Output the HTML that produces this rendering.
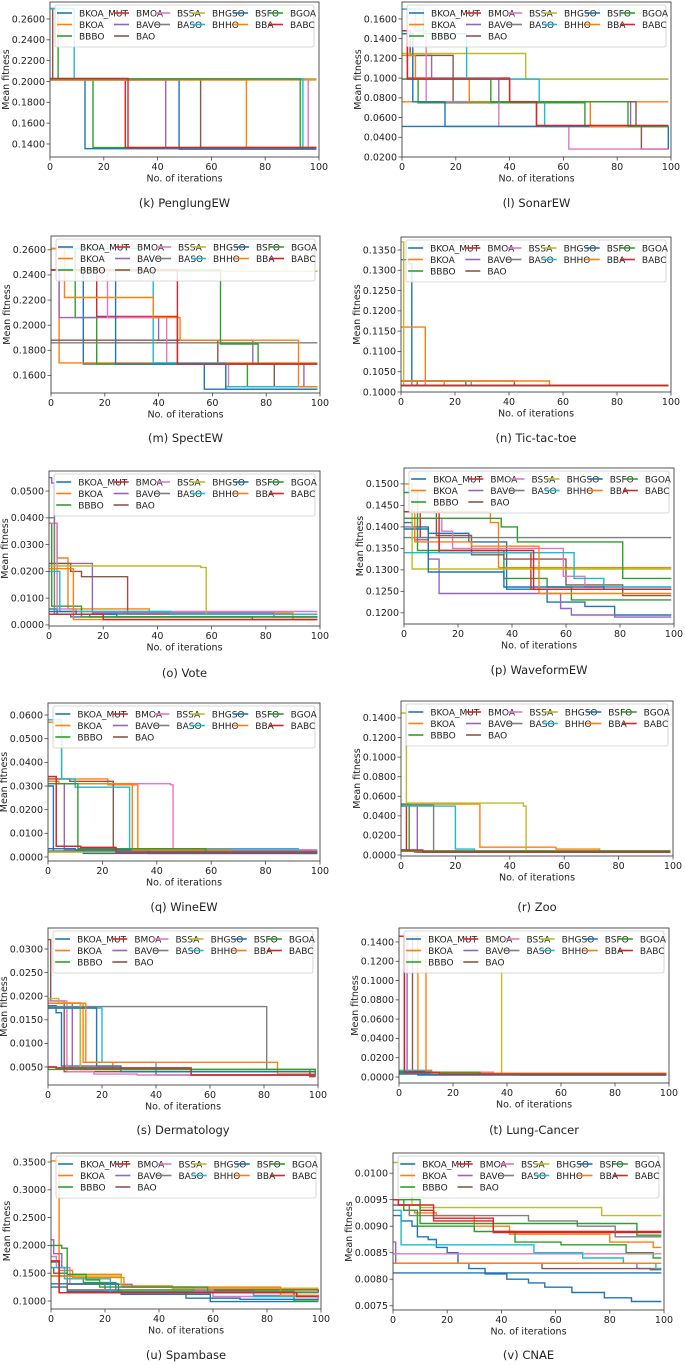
<!DOCTYPE html>
<html><head><meta charset="utf-8">
<style>
html,body{margin:0;padding:0;background:#fff;}
svg{display:block;font-family:"DejaVu Sans","Liberation Sans",sans-serif;}
</style></head>
<body>
<svg id="fig" width="685" height="1364" viewBox="0 0 685 1364" xmlns="http://www.w3.org/2000/svg"></svg>
<script>
const seriesNames = ["BKOA_MUT","BKOA","BBBO","BMOA","BAVO","BAO","BSSA","BASO","BHGSO","BHHO","BSFO","BBA","BGOA","BABC"];
const seriesColors = ["#1f77b4","#ff7f0e","#2ca02c","#d62728","#9467bd","#8c564b","#e377c2","#7f7f7f","#bcbd22","#17becf","#1f77b4","#ff7f0e","#2ca02c","#d62728"];
const xTicks = [0,20,40,60,80,100];

const penglungTicks = [0.14,0.16,0.18,0.20,0.22,0.24,0.26];
const penglungSeries = [
[[0,.2025],[13,.1355]],[[0,.2015]],[[0,.27],[3,.2025],[16,.1365]],[[0,.2025],[28,.1365]],
[[0,.2015],[43,.1365]],[[0,.27],[1,.2025],[56,.1365]],[[0,.2025],[96,.1365]],[[0,.2025]],
[[0,.2025]],[[0,.27],[9,.2025],[94,.1365]],[[0,.2015],[48,.135]],[[0,.2015],[73,.1365]],
[[0,.2025],[93,.1365]],[[0,.203],[29,.1365]]];

const sonarTicks = [0.02,0.04,0.06,0.08,0.10,0.12,0.14,0.16];
const sonarSeries = [
[[0,.051]],[[0,.076]],[[0,.145],[4,.099],[6,.075],[68,.051]],[[0,.148],[2,.100],[40,.076],[50,.051]],
[[0,.148],[3,.123],[11,.100],[36,.076],[85,.051]],[[0,.148],[3,.123],[19,.076],[87,.051],[89,.028]],
[[0,.17],[5,.148],[9,.076],[36,.051],[62,.028]],[[0,.099]],[[0,.125],[46,.099]],
[[0,.17],[8,.145],[24,.099],[51,.076],[53,.051]],[[0,.145],[4,.076],[16,.051],[99,.028]],
[[0,.123],[5,.099],[25,.076],[70,.051]],[[0,.099],[33,.076],[84,.051]],[[0,.148],[2,.099],[40,.076],[50,.052]]];

const spectTicks = [0.16,0.18,0.20,0.22,0.24,0.26];
const spectSeries = [
[[0,.244],[12,.169],[57,.149]],[[0,.244],[3,.170]],[[0,.261],[9,.206],[17,.169],[73,.151]],
[[0,.244],[17,.207],[47,.169]],[[0,.244],[3,.206],[40,.188],[75,.169],[94,.151]],
[[0,.188],[62,.169],[83,.151]],[[0,.244],[21,.206],[43,.169],[66,.151]],[[0,.186]],
[[0,.261],[5,.243]],[[0,.261],[37,.243],[38,.170],[65,.151]],[[0,.244],[24,.169],[65,.149]],
[[0,.261],[5,.222],[38,.206],[48,.188],[92,.151]],[[0,.244],[63,.185],[77,.169]],[[0,.244],[47,.169]]];

const tictacTicks = [0.100,0.105,0.110,0.115,0.120,0.125,0.130,0.135];
const tictacSeries = [
[[0,.1326],[3,.1316],[4,.1027],[24,.1016]],[[0,.1160],[9,.1027],[16,.1016]],[[0,.1027],[6,.1016]],
[[0,.1016]],[[0,.1027],[4,.1016]],[[0,.1027],[42,.1016]],[[0,.1027],[9,.1016]],[[0,.1016]],
[[0,.137],[1,.1016]],[[0,.1027],[26,.1016]],[[0,.1016]],[[0,.1027],[55,.1016]],[[0,.1016]],[[0,.1016]]];

const voteTicks = [0,0.01,0.02,0.03,0.04,0.05];
const voteSeries = [
[[0,.006],[3,.004],[8,.003],[75,.002]],[[0,.038],[3,.025],[7,.006],[37,.0045],[90,.002]],
[[0,.038],[1,.007],[12,.003]],[[0,.004],[20,.002]],[[0,.055],[1,.053],[2,.023],[16,.0045],[83,.003]],
[[0,.023],[8,.020],[12,.018],[29,.004]],[[0,.038],[3,.006],[10,.005]],[[0,.04],[2,.004]],
[[0,.022],[56,.0215],[58,.004]],[[0,.02],[4,.005],[45,.004]],[[0,.005],[10,.004],[25,.003]],
[[0,.021],[9,.002]],[[0,.004],[15,.003]],[[0,.004],[20,.002]]];

const waveTicks = [0.120,0.125,0.130,0.135,0.140,0.145,0.150];
const waveSeries = [
[[0,.141],[3,.140],[9,.1385],[24,.1365],[38,.1255],[53,.1225],[67,.1215],[78,.1195]],
[[0,.150],[3,.1435],[32,.141],[35,.1305]],[[0,.148],[5,.1345],[37,.128],[53,.126],[62,.123]],
[[0,.1435],[6,.1375],[13,.134],[47,.1255]],[[0,.140],[4,.137],[9,.1325],[13,.1245],[58,.121],[62,.1195],[78,.119]],
[[0,.1435],[12,.138],[25,.1335],[37,.1325],[60,.1265],[81,.124]],[[0,.142],[14,.139],[18,.135],[59,.1285],[67,.126]],
[[0,.1375]],[[0,.150],[3,.1302]],[[0,.134],[63,.128],[74,.126]],[[0,.1395],[9,.1295],[37,.126],[74,.1255]],
[[0,.1435],[4,.1365],[25,.1355],[50,.1245]],[[0,.142],[36,.140],[42,.1365],[81,.128]],[[0,.1435],[13,.1345],[48,.1255]]];

const wineTicks = [0,0.01,0.02,0.03,0.04,0.05,0.06];
const wineSeries = [
[[0,.030],[2,.0025],[13,.0015]],[[0,.057],[5,.033],[22,.0305],[33,.002]],[[0,.0025],[60,.002]],
[[0,.034],[3,.0045],[12,.004],[25,.002]],[[0,.031],[6,.003]],[[0,.033],[8,.032],[24,.0035],[37,.002]],
[[0,.031],[45,.0305],[46,.003]],[[0,.0025]],[[0,.002]],[[0,.058],[5,.033],[10,.0295],[30,.0035],[92,.002]],
[[0,.0035],[10,.003],[37,.0015]],[[0,.032],[4,.031],[31,.003],[67,.002]],[[0,.031],[11,.0035],[58,.002]],
[[0,.034],[3,.0045],[12,.004],[25,.002]]];

const zooTicks = [0,0.02,0.04,0.06,0.08,0.10,0.12,0.14];
const zooSeries = [
[[0,.005],[3,.004],[6,.003]],[[0,.052],[29,.008],[57,.006],[73,.004]],[[0,.052],[3,.004]],
[[0,.050],[2,.004]],[[0,.051],[6,.004]],[[0,.005],[5,.003]],[[0,.004]],[[0,.051],[12,.004]],
[[0,.145],[2,.053],[45,.050],[46,.004]],[[0,.05],[20,.006],[27,.004]],[[0,.005],[8,.003]],
[[0,.004]],[[0,.004]],[[0,.005],[8,.003]]];

const dermaTicks = [0.005,0.010,0.015,0.020,0.025,0.030];
const dermaSeries = [
[[0,.018],[3,.0165],[5,.0052],[27,.0045],[40,.0033]],[[0,.0185],[13,.006],[24,.0045],[85,.0035]],
[[0,.0185],[12,.0045],[97,.003]],[[0,.005],[3,.0048],[53,.0033]],[[0,.0185],[9,.0045],[99,.003]],
[[0,.032],[1,.019],[6,.004],[97,.003]],[[0,.019],[7,.004],[17,.0035],[33,.0033]],[[0,.0178],[81,.0045]],
[[0,.0195],[4,.0186],[12,.0045]],[[0,.0175],[20,.006],[40,.004]],[[0,.0175],[18,.0052],[27,.004]],
[[0,.0185],[14,.006],[85,.0045]],[[0,.0045],[99,.0035]],[[0,.005],[3,.0048],[53,.0033]]];

const lungTicks = [0,0.02,0.04,0.06,0.08,0.10,0.12,0.14];
const lungSeries = [
[[0,.004],[7,.002]],[[0,.146],[7,.006],[12,.004]],[[0,.006],[11,.004]],[[0,.146],[2,.006],[12,.004]],
[[0,.146],[3,.004]],[[0,.146],[5,.004]],[[0,.005],[35,.003]],[[0,.004]],[[0,.146],[38,.004]],
[[0,.007],[12,.004]],[[0,.003],[45,.002]],[[0,.146],[10,.006],[12,.004]],[[0,.005],[30,.003]],
[[0,.146],[2,.005],[15,.003]]];

const spamTicks = [0.10,0.15,0.20,0.25,0.30,0.35];
const spamSeries = [
[[0,.125],[6,.117],[26,.112],[59,.099]],[[0,.352],[3,.155],[8,.148],[26,.127],[45,.122]],
[[0,.17],[3,.145],[12,.133],[24,.117],[90,.100]],[[0,.172],[3,.115],[91,.108]],
[[0,.21],[1,.185],[4,.160],[6,.130],[30,.125],[53,.118],[75,.110],[99,.104]],[[0,.16],[1,.15],[6,.12],[99,.115]],
[[0,.18],[2,.16],[7,.13],[20,.12],[60,.108],[99,.101]],[[0,.145],[6,.13],[20,.12],[53,.115]],
[[0,.145],[26,.125],[45,.123]],[[0,.16],[5,.14],[22,.115],[75,.108]],[[0,.131],[25,.115],[50,.105],[70,.103]],
[[0,.145],[8,.142],[27,.125],[85,.110]],[[0,.20],[4,.195],[6,.148],[13,.138],[18,.125],[58,.116]],
[[0,.172],[3,.115],[91,.108]]];

const cnaeTicks = [0.0075,0.0080,0.0085,0.0090,0.0095,0.0100];
const cnaeSeries = [
[[0,.0092],[3,.0091],[7,.0090],[9,.0088],[13,.00875],[16,.0086],[20,.0085],[24,.0083],[28,.0082],[34,.0081],[42,.0080],[50,.00793],[56,.00785],[66,.00775],[78,.00765],[88,.00758]],
[[0,.0094],[4,.0093],[8,.00925],[16,.0092],[30,.0090],[43,.00885],[80,.0087],[96,.0086]],
[[0,.0095],[4,.0093],[9,.0090],[30,.0089],[45,.0087],[62,.00865],[86,.0085],[96,.0084]],
[[0,.0095],[2,.0094],[10,.0093],[15,.00915],[37,.0089]],[[0,.0087],[1,.0083],[90,.0082]],
[[0,.0083],[55,.0082],[95,.00818]],[[0,.00848]],[[0,.0094],[6,.0092],[50,.0091],[68,.0090],[82,.0088]],
[[0,.0102],[7,.0094],[10,.00935],[77,.0092]],[[0,.0093],[3,.00865],[52,.0085],[70,.0084],[85,.0083],[97,.0082]],
[[0,.00812]],[[0,.0083]],[[0,.0095],[10,.00905],[90,.00883]],[[0,.0095],[2,.0094],[15,.0091],[37,.00888]]];

const panels = [
 {id:"penglung",cap:"(k) PenglungEW",L:50,R:319,T:2,B:157,y0:.1275,y1:.2763,ticks:penglungTicks,data:penglungSeries,cy:203},
 {id:"sonar",cap:"(l) SonarEW",L:402,R:671,T:2,B:157,y0:.02,y1:.1772,ticks:sonarTicks,data:sonarSeries,cy:203},
 {id:"spect",cap:"(m) SpectEW",L:51,R:320,T:236,B:393,y0:.146,y1:.271,ticks:spectTicks,data:spectSeries,cy:438},
 {id:"tictac",cap:"(n) Tic-tac-toe",L:401,R:671,T:237,B:392,y0:.1,y1:.1382,ticks:tictacTicks,data:tictacSeries,cy:438},
 {id:"vote",cap:"(o) Vote",L:49,R:320,T:471,B:626,y0:-.0004,y1:.0575,ticks:voteTicks,data:voteSeries,cy:673},
 {id:"wave",cap:"(p) WaveformEW",L:404,R:674,T:468,B:624,y0:.1174,y1:.1537,ticks:waveTicks,data:waveSeries,cy:670},
 {id:"wine",cap:"(q) WineEW",L:48,R:320,T:703,B:861,y0:-.0017,y1:.0651,ticks:wineTicks,data:wineSeries,cy:907},
 {id:"zoo",cap:"(r) Zoo",L:401,R:673,T:701,B:856,y0:-.001,y1:.1573,ticks:zooTicks,data:zooSeries,cy:907},
 {id:"derma",cap:"(s) Dermatology",L:48,R:318,T:928,B:1085,y0:.00119,y1:.03445,ticks:dermaTicks,data:dermaSeries,cy:1130},
 {id:"lung",cap:"(t) Lung-Cancer",L:399,R:669,T:928,B:1083,y0:-.0062,y1:.1545,ticks:lungTicks,data:lungSeries,cy:1130},
 {id:"spam",cap:"(u) Spambase",L:51,R:321,T:1153,B:1309,y0:.0856,y1:.3662,ticks:spamTicks,data:spamSeries,cy:1355},
 {id:"cnae",cap:"(v) CNAE",L:393,R:664,T:1153,B:1310,y0:.00742,y1:.01038,ticks:cnaeTicks,data:cnaeSeries,cy:1355}
];

const NS="http://www.w3.org/2000/svg";
const svg=document.getElementById('fig');
function mk(tag,attrs,parent){const e=document.createElementNS(NS,tag);for(const k in attrs)e.setAttribute(k,attrs[k]);(parent||svg).appendChild(e);return e;}

panels.forEach(p=>{
  const g=mk('g',{});
  
  
  const xs=v=>p.L+v/100*(p.R-p.L);
  const ys=v=>p.B-(v-p.y0)/(p.y1-p.y0)*(p.B-p.T);
  const cp=mk('clipPath',{id:'c-'+p.id},g);
  mk('rect',{x:p.L,y:p.T,width:p.R-p.L,height:p.B-p.T},cp);
  const sg=mk('g',{'clip-path':'url(#c-'+p.id+')'},g);
  p.data.forEach((s,i)=>{
    let d='';
    s.forEach((pt,j)=>{
      const X=xs(pt[0]),Y=ys(pt[1]);
      if(j===0)d+='M'+X.toFixed(1)+','+Y.toFixed(1);
      else d+='H'+X.toFixed(1)+'V'+Y.toFixed(1);
    });
    d+='H'+xs(99).toFixed(1);
    const path=mk('path',{d:d,fill:'none',stroke:seriesColors[i],'stroke-width':1.4},sg);
    
    
  });
  const fr=mk('rect',{x:p.L,y:p.T,width:p.R-p.L,height:p.B-p.T,fill:'none',stroke:'#444','stroke-width':0.9},g);
  
  
  xTicks.forEach(t=>{
    const X=xs(t);
    mk('line',{x1:X,x2:X,y1:p.B,y2:p.B+3.5,stroke:'#444','stroke-width':0.8},g);
    const tx=mk('text',{x:X,y:p.B+13,'font-size':9.5,'text-anchor':'middle',fill:'#222'},g);
    tx.textContent=String(t);
    
    
  });
  p.ticks.forEach(t=>{
    const Y=ys(t);
    mk('line',{x1:p.L-3.5,x2:p.L,y1:Y,y2:Y,stroke:'#444','stroke-width':0.8},g);
    const ty=mk('text',{x:p.L-5,y:Y+3.3,'font-size':9.5,'text-anchor':'end',fill:'#222'},g);
    ty.textContent=t.toFixed(4);
    
    
  });
  const xl=mk('text',{x:(p.L+p.R)/2,y:p.B+24.5,'font-size':9.5,'text-anchor':'middle',fill:'#222'},g);
  xl.textContent='No. of iterations';
  
  
  const yx=p.L-41, yy=(p.T+p.B)/2;
  const yl=mk('text',{x:yx,y:yy,'font-size':9.5,'text-anchor':'middle',fill:'#222',transform:'rotate(-90 '+yx+' '+yy+')'},g);
  yl.textContent='Mean fitness';
  
  
  const W=p.R-p.L, sc=W/269;
  const lg=mk('g',{},g);
  
  
  mk('rect',{x:p.L+5*sc,y:p.T+3,width:W-10*sc,height:42,rx:2,fill:'#fff','fill-opacity':0.85,stroke:'#ccc','stroke-width':0.8},lg);
  const colX=[29,86,127,162,205,240];
  const layout=[[0,0],[0,1],[0,2],[1,0],[1,1],[1,2],[2,0],[2,1],[3,0],[3,1],[4,0],[4,1],[5,0],[5,1]];
  seriesNames.forEach((n,i)=>{
    const c=layout[i][0], r=layout[i][1];
    const tx0=p.L+colX[c]*sc, Y=p.T+11+r*11.5;
    const it=mk('g',{},lg);
    
    
    mk('line',{x1:tx0-22,x2:tx0-7,y1:Y,y2:Y,stroke:seriesColors[i],'stroke-width':1.6},it);
    const t=mk('text',{x:tx0,y:Y+3.3,'font-size':9,fill:'#222'},it);
    t.textContent=n;
  });
  const cap=mk('text',{x:(p.L+p.R)/2,y:p.cy+4,'font-size':11.5,'text-anchor':'middle',fill:'#222'},g);
  cap.textContent=p.cap;
  
  
});
</script>
</body></html>
